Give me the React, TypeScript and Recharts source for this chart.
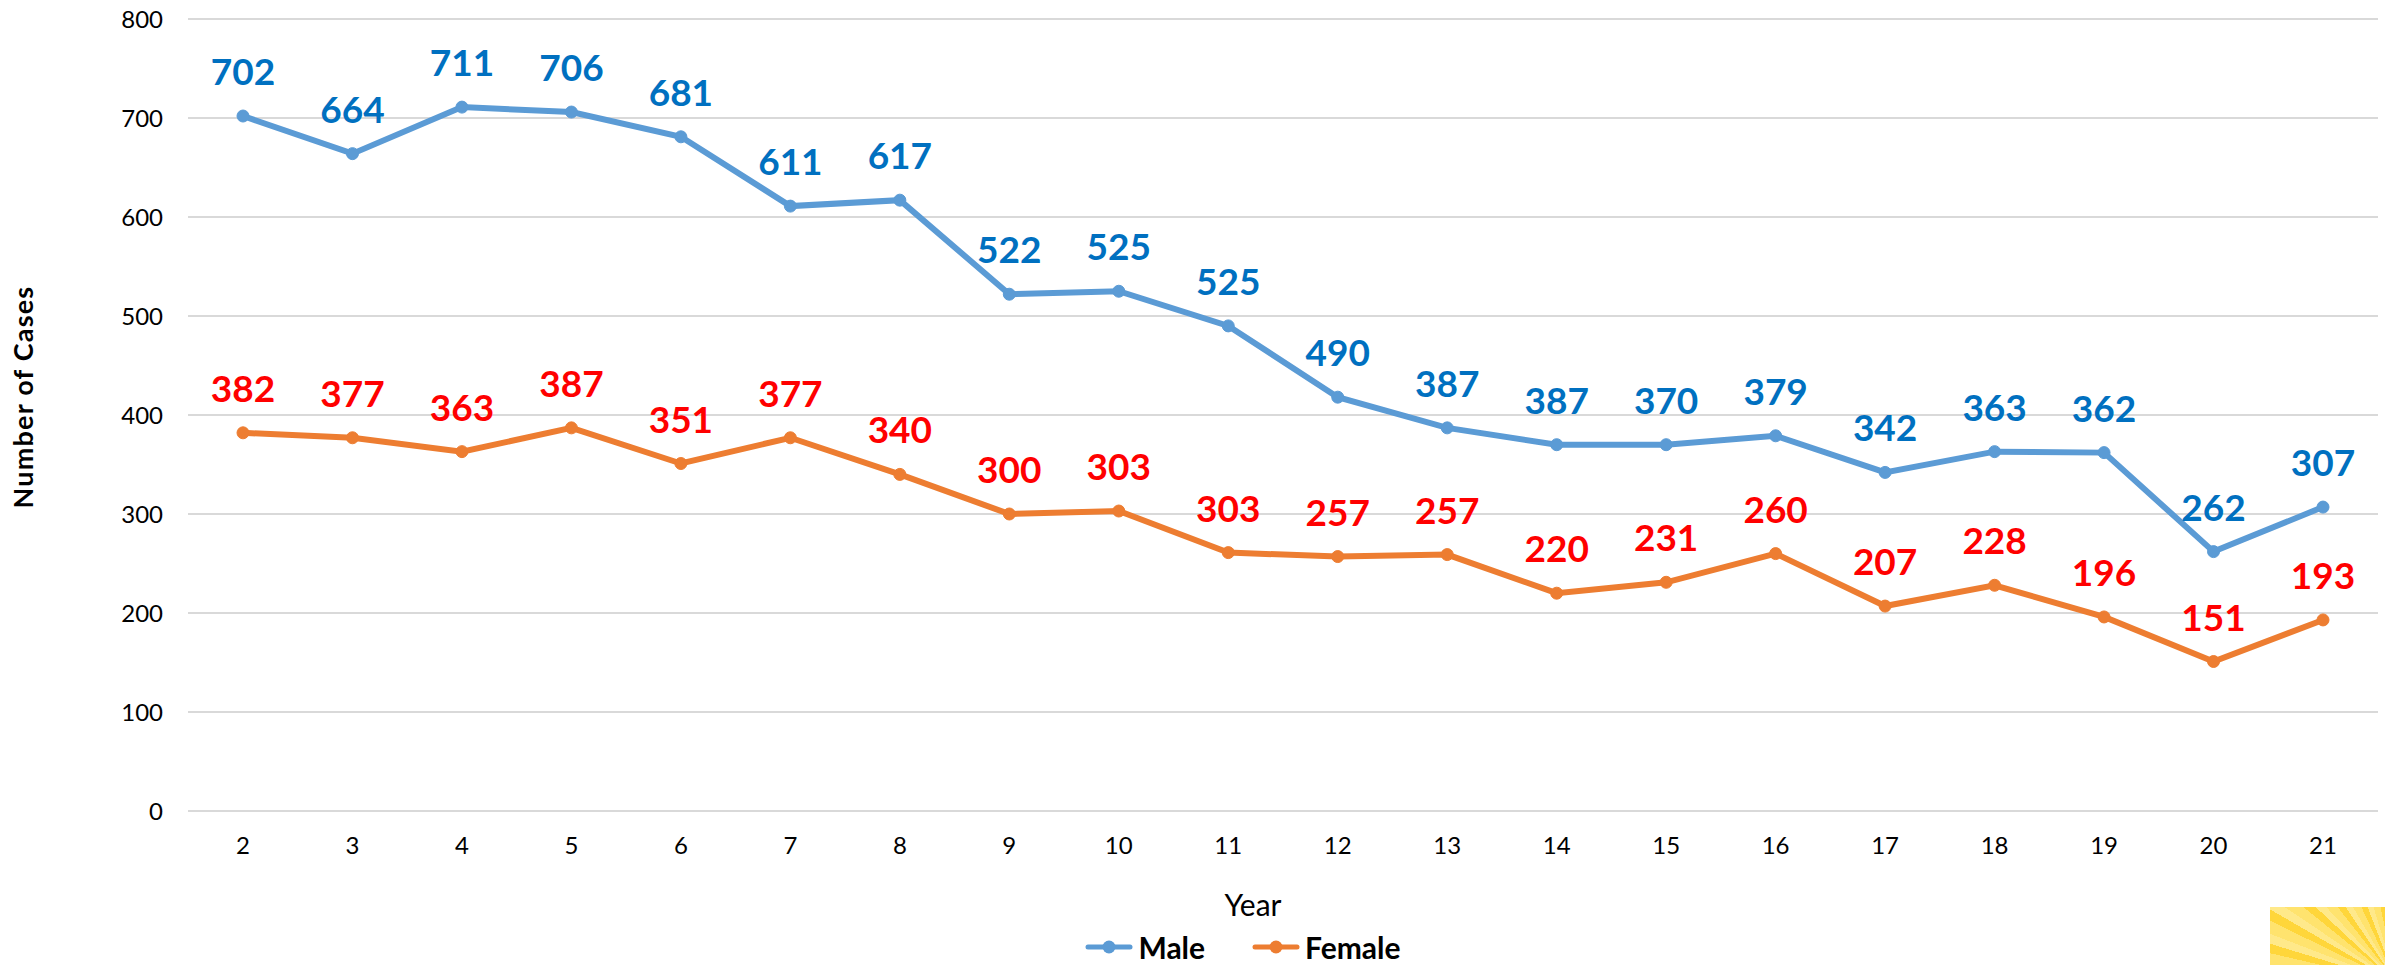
import React from 'react';
import { LineChart, Line, XAxis, YAxis, CartesianGrid, Legend, LabelList } from 'recharts';

const years = ['2', '3', '4', '5', '6', '7', '8', '9', '10', '11', '12', '13', '14', '15', '16', '17', '18', '19', '20', '21'];
const maleValues = [702, 664, 711, 706, 681, 611, 617, 522, 525, 490, 418, 387, 370, 370, 379, 342, 363, 362, 262, 307];
const maleLabels = [702, 664, 711, 706, 681, 611, 617, 522, 525, 525, 490, 387, 387, 370, 379, 342, 363, 362, 262, 307];
const femaleValues = [382, 377, 363, 387, 351, 377, 340, 300, 303, 261, 257, 259, 220, 231, 260, 207, 228, 196, 151, 193];
const femaleLabels = [382, 377, 363, 387, 351, 377, 340, 300, 303, 303, 257, 257, 220, 231, 260, 207, 228, 196, 151, 193];
const yTicks = [0, 100, 200, 300, 400, 500, 600, 700, 800];
const seriesOrder = ['Male', 'Female'];

const data = years.map((y, i) => ({ year: y, Male: maleValues[i], Female: femaleValues[i] }));

const FONT = 'Lato, "Open Sans", sans-serif';
const MALE_LINE = '#5B9BD5';
const MALE_TEXT = '#0070C0';
const FEMALE_LINE = '#ED7D31';
const FEMALE_TEXT = '#FF0000';

const makeLabel = (labels: number[], color: string) => (props: any) => {
  const { x, y, index } = props;
  if (x == null || y == null) return null;
  return (
    <text x={x} y={y - 31} textAnchor="middle" fill={color} fontFamily={FONT} fontWeight={700} fontSize={37}>
      {labels[index]}
    </text>
  );
};

const LegendContent = (props: any) => {
  const items = [...(props.payload || [])].sort(
    (a: any, b: any) => seriesOrder.indexOf(a.value) - seriesOrder.indexOf(b.value)
  );
  return (
    <div
      style={{
        display: 'flex',
        justifyContent: 'center',
        alignItems: 'center',
        height: 36,
        boxSizing: 'border-box',
        paddingLeft: 108,
        fontFamily: FONT,
        fontWeight: 700,
        fontSize: 30,
        lineHeight: '36px',
        color: '#000',
      }}
    >
      {items.map((it: any, i: number) => (
        <div key={i} style={{ display: 'flex', alignItems: 'center', marginRight: i < items.length - 1 ? 47 : 0 }}>
          <svg width={48} height={16} style={{ display: 'block' }}>
            <line x1={3} y1={8} x2={45} y2={8} stroke={it.color} strokeWidth={5} strokeLinecap="round" />
            <circle cx={24} cy={8} r={6.5} fill={it.color} />
          </svg>
          <span style={{ marginLeft: 5 }}>{it.value}</span>
        </div>
      ))}
    </div>
  );
};

const YearLabel = (props: any) => {
  const vb = props.viewBox || {};
  return (
    <text x={vb.x + vb.width / 2 - 30} y={vb.y + 105} textAnchor="middle" fontFamily={FONT} fontSize={30} fill="#000">
      Year
    </text>
  );
};

const CasesLabel = (props: any) => {
  const vb = props.viewBox || {};
  const cx = 33;
  const cy = vb.y + vb.height / 2 - 18;
  return (
    <text
      x={cx}
      y={cy}
      transform={`rotate(-90, ${cx}, ${cy})`}
      textAnchor="middle"
      fontFamily={FONT}
      fontWeight={700}
      fontSize={27}
      letterSpacing={1.2}
      fill="#000"
    >
      Number of Cases
    </text>
  );
};

export default function App() {
  return (
    <div style={{ position: 'absolute', left: 0, top: 0, width: 2385, height: 965, background: '#fff', overflow: 'hidden' }}>
      <LineChart width={2385} height={965} data={data} margin={{ top: 19, right: 7, left: 0, bottom: 0 }}>
        <CartesianGrid vertical={false} stroke="#D9D9D9" strokeWidth={2} />
        <XAxis
          dataKey="year"
          interval={0}
          axisLine={false}
          tickLine={false}
          tickSize={0}
          tickMargin={26}
          height={118}
          padding={{ left: 55, right: 55 }}
          tick={{ fontFamily: FONT, fontSize: 24, fill: '#000' }}
          label={<YearLabel />}
        />
        <YAxis
          domain={[0, 800]}
          ticks={yTicks}
          interval={0}
          width={188}
          axisLine={false}
          tickLine={false}
          tickSize={0}
          tickMargin={25}
          tick={{ fontFamily: FONT, fontSize: 24, fill: '#000' }}
          label={<CasesLabel />}
        />
        <Legend verticalAlign="bottom" align="center" content={<LegendContent />} wrapperStyle={{ bottom: 0, height: 36 }} />
        <Line
          type="linear"
          dataKey="Male"
          name="Male"
          stroke={MALE_LINE}
          strokeWidth={6}
          dot={{ r: 6, fill: MALE_LINE, stroke: MALE_LINE, strokeWidth: 1 }}
          activeDot={false}
          isAnimationActive={false}
        >
          <LabelList dataKey="Male" content={makeLabel(maleLabels, MALE_TEXT)} />
        </Line>
        <Line
          type="linear"
          dataKey="Female"
          name="Female"
          stroke={FEMALE_LINE}
          strokeWidth={6}
          dot={{ r: 6, fill: FEMALE_LINE, stroke: FEMALE_LINE, strokeWidth: 1 }}
          activeDot={false}
          isAnimationActive={false}
        >
          <LabelList dataKey="Female" content={makeLabel(femaleLabels, FEMALE_TEXT)} />
        </Line>
      </LineChart>
      <div
        style={{
          position: 'absolute',
          left: 2270,
          top: 907,
          width: 115,
          height: 58,
          background:
            'repeating-conic-gradient(from 200deg at 110% 130%, #FFE36E 0deg 5deg, #FFD63A 5deg 9deg, #FFE98A 9deg 13deg)',
        }}
      />
    </div>
  );
}
